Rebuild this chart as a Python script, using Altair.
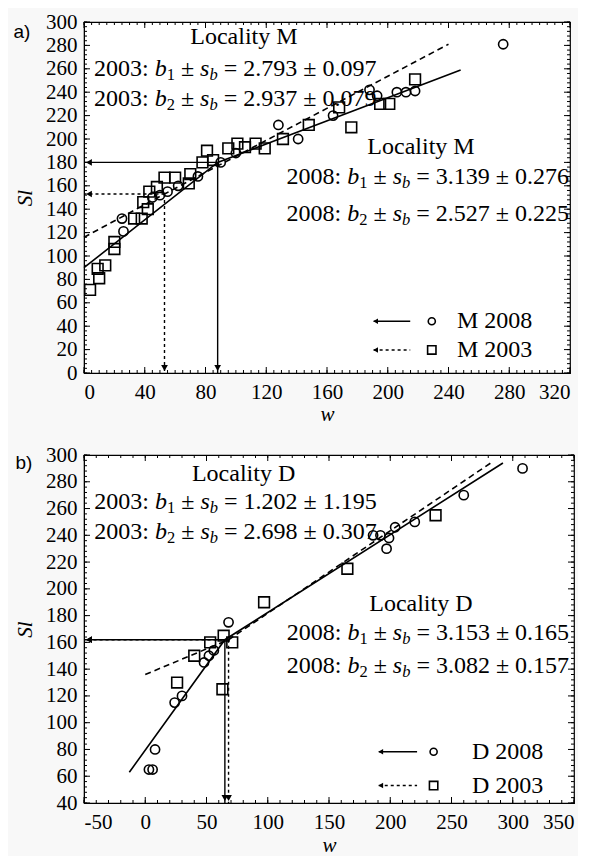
import altair as alt
import pandas as pd

# ---------------- Panel a: Locality M ----------------
a_c08_w = [25, 26, 45, 50, 55, 62, 75, 90, 100, 128, 141, 164, 188, 193, 206, 212, 218, 276]
a_c08_sl = [132, 121, 150, 152, 155, 160, 168, 180, 188, 212, 200, 220, 242, 237, 240, 240, 241, 281]
a_s03_w = [4, 10, 9, 14, 20, 20, 33, 38, 39, 42, 43, 48, 53, 60, 69, 70, 78, 81, 85, 95,
           101, 106, 113, 119, 131, 148, 168, 176, 195, 201, 218]
a_s03_sl = [71, 81, 89, 92, 106, 112, 132, 132, 146, 140, 155, 159, 167, 167, 162, 170, 180, 190, 182, 192,
            196, 193, 196, 192, 200, 212, 227, 210, 230, 230, 251]
a_fit08_w = [0, 88, 248]
a_fit08_sl = [90, 180, 259]
a_fit03_w = [0, 53, 240]
a_fit03_sl = [116, 153, 281]
a_ref08 = [88, 180]
a_ref03 = [53, 153]

# ---------------- Panel b: Locality D ----------------
b_c08_w = [3, 6, 8, 24, 30, 48, 52, 56, 68, 186, 192, 197, 199, 204, 220, 260, 308]
b_c08_sl = [65, 65, 80, 115, 120, 145, 150, 154, 175, 240, 240, 230, 238, 246, 250, 270, 290]
b_s03_w = [26, 40, 53, 63, 64, 71, 97, 165, 237]
b_s03_sl = [130, 150, 160, 125, 165, 160, 190, 215, 255]
b_fit08_w = [-13, 65, 292]
b_fit08_sl = [63, 162, 294]
b_fit03_w = [0, 68, 282]
b_fit03_sl = [136, 162, 294]
b_ref08 = [65, 162]
b_ref03 = [68, 162]

SERIF = "Liberation Serif"
SANS = "Liberation Sans"
FS = 24
FS_SUB = 16.5
SUBDROP = 6

ADV = {c: 0.5 for c in "0123456789"}
ADV.update({":": 0.278, " ": 0.25, ".": 0.25, "±": 0.549, "=": 0.564, "b": 0.5, "s": 0.389})


def text_width(s, size):
    return sum(ADV.get(c, 0.5) for c in s) * size


def eq_pieces(year, idx, b, sb):
    return [(f"{year}: ", False, False), ("b", True, False), (idx, False, True),
            (" ± ", False, False), ("s", True, False), ("b", True, True),
            (f" = {b} ± {sb}", False, False)]


def eq_rows(anchor_w, anchor_sl, pieces, ppx, ppy, right=False):
    sizes = [FS_SUB if sub else FS for _, _, sub in pieces]
    widths = [text_width(t, s) for (t, _, _), s in zip(pieces, sizes)]
    total = sum(widths)
    x = anchor_w - (total / ppx if right else 0)
    rows = []
    for (t, it, sub), s, wd in zip(pieces, sizes, widths):
        lead = (len(t) - len(t.lstrip(" "))) * 0.25 * s
        rows.append(dict(w=x + lead / ppx, sl=anchor_sl - (SUBDROP / ppy if sub else 0),
                         text=t.strip(), size=s, italic=it))
        x += wd / ppx
    return rows


def panel(cfg):
    xmin, xmax = cfg["xdom"]
    ymin, ymax = cfg["ydom"]
    W, H = cfg["W"], cfg["H"]
    ppx = W / (xmax - xmin)
    ppy = H / (ymax - ymin)
    xs = alt.Scale(domain=[xmin, xmax], nice=False, zero=False)
    ys = alt.Scale(domain=[ymin, ymax], nice=False, zero=False)
    common = dict(domain=True, domainColor="black", ticks=False, grid=False,
                  labelFont=SERIF, labelFontSize=21, labelColor="black",
                  titleFont=SERIF, titleFontStyle="italic", titleFontSize=21,
                  titleFontWeight="normal", titleColor="black")
    xax = alt.Axis(values=cfg["xticks"], title="w", labelPadding=8, titlePadding=cfg["xtitle_pad"],
                   labelExpr="datum.value + ''", labelOverlap=False, **common)
    yax = alt.Axis(values=cfg["yticks"], title="Sl", labelPadding=7, titlePadding=10, **common)

    def X(f):
        return alt.X(f, type="quantitative", scale=xs, axis=xax)

    def Y(f):
        return alt.Y(f, type="quantitative", scale=ys, axis=yax)

    layers = []
    # inward frame ticks
    for vals, L in [(cfg["xticks"], 6), (cfg["xminor"], 3)]:
        d = pd.DataFrame({"w": vals})
        base = alt.Chart(d).mark_rule(color="black", strokeWidth=1)
        layers.append(base.encode(x=X("w"), y=alt.value(H), y2=alt.value(H - L)))
        layers.append(base.encode(x=X("w"), y=alt.value(0), y2=alt.value(L)))
    for vals, L in [(cfg["yticks"], 6), (cfg["yminor"], 3)]:
        d = pd.DataFrame({"sl": vals})
        base = alt.Chart(d).mark_rule(color="black", strokeWidth=1)
        layers.append(base.encode(y=Y("sl"), x=alt.value(0), x2=alt.value(L)))
        layers.append(base.encode(y=Y("sl"), x=alt.value(W), x2=alt.value(W - L)))

    # fitted lines
    f08 = pd.DataFrame({"w": cfg["fit08_w"], "sl": cfg["fit08_sl"], "i": range(len(cfg["fit08_w"]))})
    f03 = pd.DataFrame({"w": cfg["fit03_w"], "sl": cfg["fit03_sl"], "i": range(len(cfg["fit03_w"]))})
    layers.append(alt.Chart(f08).mark_line(color="black", strokeWidth=1.6)
                  .encode(x=X("w"), y=Y("sl"), order="i:Q"))
    layers.append(alt.Chart(f03).mark_line(color="black", strokeWidth=1.6, strokeDash=[6, 4])
                  .encode(x=X("w"), y=Y("sl"), order="i:Q"))

    # reference arrows
    r08w, r08s = cfg["ref08"]
    r03w, r03s = cfg["ref03"]
    ar08 = pd.DataFrame({"w": [r08w, r08w], "sl": [r08s, r08s], "w2": [xmin, r08w], "sl2": [r08s, ymin]})
    ar03 = pd.DataFrame({"w": [r03w, r03w], "sl": [r03s, r03s], "w2": [xmin, r03w], "sl2": [r03s, ymin]})
    layers.append(alt.Chart(ar08).mark_rule(color="black", strokeWidth=1.4)
                  .encode(x=X("w"), y=Y("sl"), x2="w2", y2="sl2"))
    layers.append(alt.Chart(ar03).mark_rule(color="black", strokeWidth=1.4, strokeDash=[3, 3])
                  .encode(x=X("w"), y=Y("sl"), x2="w2", y2="sl2"))
    hl = pd.DataFrame({"w": [xmin + 5 / ppx, xmin + 5 / ppx], "sl": [r08s, r03s]})
    vd = pd.DataFrame({"w": [r08w, r03w], "sl": [ymin + 5 / ppy, ymin + 5 / ppy]})
    layers.append(alt.Chart(hl).mark_point(shape="triangle-left", filled=True, color="black", size=45, opacity=1)
                  .encode(x=X("w"), y=Y("sl")))
    layers.append(alt.Chart(vd).mark_point(shape="triangle-down", filled=True, color="black", size=45, opacity=1)
                  .encode(x=X("w"), y=Y("sl")))

    # data points
    c08 = pd.DataFrame({"w": cfg["c08_w"], "sl": cfg["c08_sl"]})
    s03 = pd.DataFrame({"w": cfg["s03_w"], "sl": cfg["s03_sl"]})
    layers.append(alt.Chart(s03).mark_point(shape="square", filled=False, color="black", size=115,
                                            strokeWidth=1.6, opacity=1)
                  .encode(x=X("w"), y=Y("sl")))
    layers.append(alt.Chart(c08).mark_point(shape="circle", filled=False, color="black", size=85,
                                            strokeWidth=1.6, opacity=1)
                  .encode(x=X("w"), y=Y("sl")))

    # legend
    lg = cfg["legend"]
    lx0, lx1, lmk, ltx = lg["x"]
    y1, y2 = lg["y"]
    lsolid = pd.DataFrame({"w": [lx0], "w2": [lx1], "sl": [y1]})
    ldash = pd.DataFrame({"w": [lx0], "w2": [lx1], "sl": [y2]})
    layers.append(alt.Chart(lsolid).mark_rule(color="black", strokeWidth=1.5)
                  .encode(x=X("w"), x2="w2", y=Y("sl")))
    layers.append(alt.Chart(ldash).mark_rule(color="black", strokeWidth=1.5, strokeDash=[3, 3])
                  .encode(x=X("w"), x2="w2", y=Y("sl")))
    lhead = pd.DataFrame({"w": [lx0 + 2 / ppx, lx0 + 2 / ppx], "sl": [y1, y2]})
    layers.append(alt.Chart(lhead).mark_point(shape="triangle-left", filled=True, color="black", size=30, opacity=1)
                  .encode(x=X("w"), y=Y("sl")))
    layers.append(alt.Chart(pd.DataFrame({"w": [lmk], "sl": [y1]}))
                  .mark_point(shape="circle", filled=False, color="black", size=50, strokeWidth=1.6, opacity=1)
                  .encode(x=X("w"), y=Y("sl")))
    layers.append(alt.Chart(pd.DataFrame({"w": [lmk], "sl": [y2]}))
                  .mark_point(shape="square", filled=False, color="black", size=70, strokeWidth=1.6, opacity=1)
                  .encode(x=X("w"), y=Y("sl")))
    ltext = pd.DataFrame({"w": [ltx, ltx], "sl": [y1, y2], "t": lg["labels"]})
    layers.append(alt.Chart(ltext).mark_text(font=SERIF, fontSize=FS, align="left", baseline="middle", color="black")
                  .encode(x=X("w"), y=Y("sl"), text="t:N"))

    # annotations
    rows = []
    for item in cfg["eqs"]:
        rows += eq_rows(item["w"], item["sl"], eq_pieces(*item["p"]), ppx, ppy, right=item["right"])
    ann = pd.DataFrame(rows)
    for it, style in [(False, "normal"), (True, "italic")]:
        d = ann[ann["italic"] == it][["w", "sl", "text", "size"]]
        layers.append(alt.Chart(d).mark_text(font=SERIF, fontStyle=style, align="left", baseline="middle",
                                             color="black")
                      .encode(x=X("w"), y=Y("sl"), text="text:N", size=alt.Size("size:Q", scale=None, legend=None)))
    loc = pd.DataFrame({"w": [p[0] for p in cfg["loc"]], "sl": [p[1] for p in cfg["loc"]],
                        "t": [cfg["loc_text"]] * len(cfg["loc"])})
    layers.append(alt.Chart(loc).mark_text(font=SERIF, fontSize=FS, align="center", baseline="middle", color="black")
                  .encode(x=X("w"), y=Y("sl"), text="t:N"))

    # panel letter
    layers.append(alt.Chart(pd.DataFrame({"t": [cfg["tag"]]}))
                  .mark_text(font=SANS, fontSize=19, align="center", baseline="middle", color="black")
                  .encode(text="t:N", x=alt.value(cfg["tag_xy"][0]), y=alt.value(cfg["tag_xy"][1])))

    return alt.layer(*layers).properties(width=W, height=H)


cfg_a = dict(
    xdom=[0, 320], ydom=[0, 300], W=486, H=351, xtitle_pad=1,
    xticks=list(range(0, 321, 40)), xminor=list(range(0, 321, 5)),
    yticks=list(range(0, 301, 20)), yminor=list(range(0, 301, 4)),
    c08_w=a_c08_w, c08_sl=a_c08_sl, s03_w=a_s03_w, s03_sl=a_s03_sl,
    fit08_w=a_fit08_w, fit08_sl=a_fit08_sl, fit03_w=a_fit03_w, fit03_sl=a_fit03_sl,
    ref08=a_ref08, ref03=a_ref03,
    legend=dict(x=[190.7, 214.8, 229, 245.6], y=[44.2, 19.7], labels=["M 2008", "M 2003"]),
    eqs=[dict(w=6.6, sl=260, p=("2003", "1", "2.793", "0.097"), right=False),
         dict(w=6.6, sl=234, p=("2003", "2", "2.937", "0.079"), right=False),
         dict(w=319.3, sl=167.5, p=("2008", "1", "3.139", "0.276"), right=True),
         dict(w=319.3, sl=135.9, p=("2008", "2", "2.527", "0.225"), right=True)],
    loc=[(105.3, 287), (221.9, 193)], loc_text="Locality M",
    tag="a)", tag_xy=(-62, 10),
)

cfg_b = dict(
    xdom=[-50, 350], ydom=[40, 300], W=490, H=348, xtitle_pad=2,
    xticks=list(range(-50, 351, 50)), xminor=list(range(-50, 351, 10)),
    yticks=list(range(40, 301, 20)), yminor=list(range(40, 301, 4)),
    c08_w=b_c08_w, c08_sl=b_c08_sl, s03_w=b_s03_w, s03_sl=b_s03_sl,
    fit08_w=b_fit08_w, fit08_sl=b_fit08_sl, fit03_w=b_fit03_w, fit03_sl=b_fit03_sl,
    ref08=b_ref08, ref03=b_ref03,
    legend=dict(x=[190.6, 221.9, 235.4, 266.7], y=[78.3, 53], labels=["D 2008", "D 2003"]),
    eqs=[dict(w=-41.6, sl=264.8, p=("2003", "1", "1.202", "1.195"), right=False),
         dict(w=-41.6, sl=242.7, p=("2003", "2", "2.698", "0.307"), right=False),
         dict(w=346, sl=166.7, p=("2008", "1", "3.153", "0.165"), right=True),
         dict(w=346, sl=142.4, p=("2008", "2", "3.082", "0.157"), right=True)],
    loc=[(80.3, 286), (225, 188.7)], loc_text="Locality D",
    tag="b)", tag_xy=(-60, 8),
)

chart = (
    alt.vconcat(panel(cfg_a), panel(cfg_b), spacing=18)
    .properties(padding={"left": 4, "top": 2, "right": 2, "bottom": 0}, background="#f8f8f8")
    .configure_view(stroke="black", strokeWidth=1.2, fill="white")
)

chart.save("out.html", embed_options={"renderer": "svg", "actions": False})
